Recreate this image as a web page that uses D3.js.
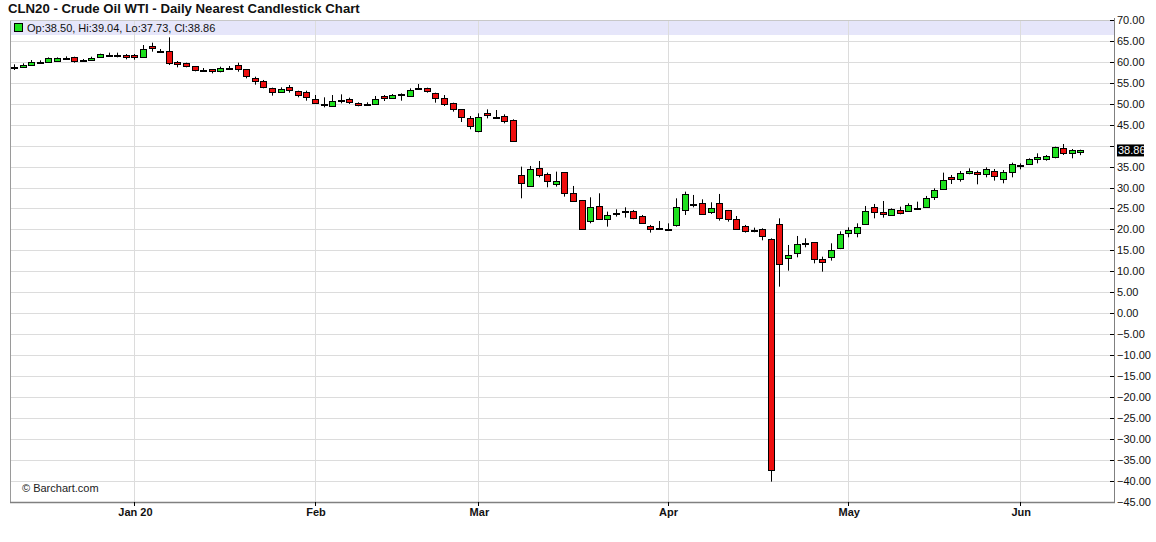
<!DOCTYPE html>
<html><head><meta charset="utf-8">
<script src="https://cdn.jsdelivr.net/npm/d3@7"></script>
<style>
html,body{margin:0;padding:0;background:#fff;}
svg{display:block;font-family:"Liberation Sans",Arial,sans-serif;}
</style></head>
<body><svg id="chart" width="1156" height="542"></svg>
<script>
const opens = [58.86,58.70,59.18,60.05,60.05,60.29,60.93,61.08,60.37,60.45,61.24,61.56,61.56,61.72,61.64,61.08,63.79,62.68,62.68,59.89,
59.65,59.02,58.14,58.30,57.90,58.46,59.25,58.22,56.23,55.52,53.69,52.73,53.92,52.97,52.89,51.06,49.87,49.39,50.90,51.06,
50.19,49.87,49.87,51.86,51.46,52.25,51.94,53.85,53.69,52.49,51.30,50.11,48.67,46.52,43.58,47.88,46.92,47.08,46.13,33.00,
30.38,34.59,33.16,30.77,33.64,28.63,27.03,22.10,25.60,22.42,24.01,24.41,24.41,23.29,20.91,20.43,20.11,21.07,24.65,26.08,
26.24,24.25,26.24,24.65,22.50,20.83,19.87,20.03,17.64,21.22,13.11,14.30,16.84,16.92,12.87,13.30,15.65,19.07,19.07,21.22,
25.44,24.09,23.37,24.64,24.48,25.20,25.44,27.67,29.58,32.44,31.96,33.40,33.80,33.16,34.03,31.96,33.64,35.31,35.54,36.74,
36.74,37.21,39.36,38.17,38.50];
const highs = [59.41,59.65,60.45,60.37,61.08,61.08,61.32,61.24,60.69,61.24,61.96,62.20,62.20,61.88,61.88,64.03,64.59,63.07,65.86,60.21,
59.81,59.02,58.54,58.30,58.86,59.02,59.81,58.22,56.47,55.68,53.85,53.92,54.48,53.13,53.13,52.09,51.54,52.09,52.25,51.46,
50.34,50.34,51.86,52.09,52.33,52.49,53.69,54.72,53.85,52.65,52.09,50.26,48.67,47.08,47.72,48.67,48.51,47.48,46.29,34.99,
35.15,36.34,33.56,33.80,33.64,30.38,27.03,27.67,28.63,24.25,24.81,25.28,24.65,23.45,21.07,22.02,21.46,27.43,29.02,28.23,
27.19,26.48,28.47,24.65,23.21,21.07,20.43,20.27,17.88,22.65,16.29,18.44,17.88,16.92,13.50,16.69,19.55,20.50,21.46,25.60,
26.08,26.79,25.04,25.44,26.24,26.63,27.99,29.82,33.56,33.00,33.95,34.59,34.03,34.83,34.43,34.19,35.94,35.78,36.98,38.17,
37.77,39.76,40.40,39.20,39.04];
const lows = [58.06,58.62,59.02,59.65,59.89,60.29,60.45,59.81,60.05,60.29,61.08,61.24,61.08,60.61,60.53,61.08,62.44,62.20,59.25,58.70,
58.70,57.74,57.74,57.26,57.50,58.06,57.66,56.07,54.56,53.69,51.94,52.65,52.65,51.54,50.74,49.95,49.15,49.39,50.11,49.95,
49.39,49.63,49.71,50.66,51.30,50.74,51.86,53.45,52.65,50.26,49.47,48.12,45.65,43.90,43.18,46.52,46.60,45.33,41.03,27.43,
30.38,32.44,30.06,30.22,27.83,26.64,20.11,21.46,22.42,20.67,23.06,22.82,22.42,21.30,19.24,20.03,19.87,20.67,23.45,25.28,
23.61,23.69,22.10,21.86,20.03,19.24,19.32,17.40,-40.21,6.34,10.16,13.34,15.73,11.91,9.92,12.55,15.30,18.12,18.12,21.22,
22.65,22.81,23.37,23.61,24.25,24.80,25.20,27.03,29.58,30.85,31.41,33.16,30.77,32.44,31.65,31.01,32.44,34.35,35.38,35.78,
36.42,36.98,37.77,36.98,37.73];
const closes = [58.86,59.33,59.97,60.05,60.93,60.93,60.93,60.29,60.37,61.00,61.80,61.56,61.56,61.08,61.08,62.99,63.31,62.68,59.65,59.49,
59.02,58.06,58.14,57.74,58.54,58.46,58.22,56.71,55.52,54.08,52.89,53.45,53.21,52.09,51.54,50.11,49.87,50.58,50.90,50.34,
49.63,49.87,51.06,51.30,52.09,52.25,53.29,53.85,53.13,51.30,49.87,48.67,46.92,44.61,46.76,47.24,46.92,45.89,41.19,31.01,
34.35,33.00,31.57,31.65,28.63,26.87,20.11,25.28,22.50,23.45,24.01,24.41,22.66,21.46,20.03,20.43,20.11,25.28,28.39,26.08,
23.61,25.04,22.66,22.50,20.03,19.71,19.87,18.44,-37.42,11.67,13.90,16.45,16.84,12.87,12.31,15.00,18.83,19.80,20.50,24.48,
24.09,23.61,24.80,24.01,25.76,25.20,27.43,29.42,31.80,31.96,33.40,33.95,33.16,34.35,32.76,33.64,35.62,35.31,36.74,37.37,
37.53,39.60,38.17,38.97,38.86];

const monthLabels = ["Jan 20","Feb","Mar","Apr","May","Jun"];
const monthIndex = [14,35,54,76,97,117];
const yTicks = [70,65,60,55,50,45,40,35,30,25,20,15,10,5,0,-5,-10,-15,-20,-25,-30,-35,-40,-45];
const title = "CLN20 - Crude Oil WTI - Daily Nearest Candlestick Chart";
const legendText = "Op:38.50, Hi:39.04, Lo:37.73, Cl:38.86";
const lastLabel = "38.86";

const svg = d3.select("#chart");
const L = 10, R = 1114, T = 20, B = 502;
const x = d3.scaleLinear().domain([0, opens.length - 1]).range([14, 1080.4]);
const y = d3.scaleLinear().domain([-45, 70]).range([501.7, 20]);

// legend band
svg.append("rect").attr("x", L).attr("y", T).attr("width", R - L).attr("height", 15).attr("fill", "#e6e6fa");

// horizontal grid
svg.append("g").selectAll("line").data(yTicks.filter(v => v < 70 && v > -45)).join("line")
  .attr("x1", L).attr("x2", R).attr("y1", d => Math.round(y(d)) + 0.5).attr("y2", d => Math.round(y(d)) + 0.5)
  .attr("stroke", "#dcdcdc").attr("stroke-width", 1);
// vertical grid
svg.append("g").selectAll("line").data(monthIndex).join("line")
  .attr("x1", d => Math.round(x(d)) + 0.5).attr("x2", d => Math.round(x(d)) + 0.5)
  .attr("y1", T).attr("y2", B).attr("stroke", "#dcdcdc");

// legend contents
svg.append("rect").attr("x", 14.5).attr("y", 23.5).attr("width", 8).attr("height", 8)
  .attr("fill", "#1ee01e").attr("stroke", "#000");
svg.append("text").attr("x", 27).attr("y", 32).attr("font-size", 11).attr("fill", "#111").text(legendText);

// border
svg.append("line").attr("x1", L + 0.5).attr("x2", L + 0.5).attr("y1", T).attr("y2", B).attr("stroke", "#9a9a9a");
svg.append("line").attr("x1", L).attr("x2", R).attr("y1", T + 0.5).attr("y2", T + 0.5).attr("stroke", "#c8c8c8");

// candles
const data = opens.map((o, i) => ({i, o, h: highs[i], l: lows[i], c: closes[i]}));
const bw = 6;
const g = svg.append("g");
g.selectAll("line.wick").data(data).join("line").attr("class", "wick")
  .attr("x1", d => Math.round(x(d.i)) + 0.5).attr("x2", d => Math.round(x(d.i)) + 0.5)
  .attr("y1", d => y(d.h)).attr("y2", d => y(d.l)).attr("stroke", "#000").attr("stroke-width", 1);
g.selectAll("rect.body").data(data).join("rect").attr("class", "body")
  .attr("x", d => Math.round(x(d.i)) - bw / 2 + 0.5)
  .attr("y", d => Math.round(y(Math.max(d.o, d.c))) + 0.5)
  .attr("width", bw)
  .attr("height", d => Math.max(1, Math.round(y(Math.min(d.o, d.c))) - Math.round(y(Math.max(d.o, d.c)))))
  .attr("fill", d => d.c > d.o ? "#1ee01e" : (d.c < d.o ? "#ee0e0e" : "#000"))
  .attr("stroke", "#000").attr("stroke-width", 1);

// right axis
const lastClose = closes[closes.length - 1];
const lp = y(lastClose);
const ax = svg.append("g");
ax.append("line").attr("x1", R + 0.5).attr("x2", R + 0.5).attr("y1", T - 2).attr("y2", B).attr("stroke", "#808080");
ax.selectAll("line.tk").data(yTicks).join("line").attr("class", "tk")
  .attr("x1", R - 4).attr("x2", R).attr("y1", d => Math.round(y(d)) + 0.5).attr("y2", d => Math.round(y(d)) + 0.5)
  .attr("stroke", "#000");
ax.selectAll("text").data(yTicks.filter(d => Math.abs(y(d) - lp) > 11)).join("text")
  .attr("x", 1117).attr("y", d => y(d) + 4).attr("font-size", 11).attr("fill", "#111")
  .text(d => d3.format(".2f")(d));
// last price label
ax.append("rect").attr("x", 1117).attr("y", lp - 6).attr("width", 27).attr("height", 12).attr("fill", "#000");
ax.append("text").attr("x", 1118).attr("y", lp + 4).attr("font-size", 11).attr("fill", "#fff").text(lastLabel);

// bottom axis
svg.append("line").attr("x1", L).attr("x2", R + 1).attr("y1", B + 0.5).attr("y2", B + 0.5).attr("stroke", "#808080").attr("stroke-width", 1.5);
svg.append("g").selectAll("line").data(monthIndex).join("line")
  .attr("x1", d => Math.round(x(d)) + 0.5).attr("x2", d => Math.round(x(d)) + 0.5)
  .attr("y1", B).attr("y2", B + 4).attr("stroke", "#000");
svg.append("g").selectAll("text").data(monthIndex).join("text")
  .attr("x", d => x(d) + 1).attr("y", 516).attr("text-anchor", "middle").attr("font-size", 11).attr("font-weight", "bold")
  .attr("fill", "#111").text((d, k) => monthLabels[k]);

// watermark
svg.append("text").attr("x", 22).attr("y", 492).attr("font-size", 11).attr("fill", "#222").text("© Barchart.com");

// title
svg.append("text").attr("x", 8).attr("y", 13).attr("font-size", 13.2).attr("font-weight", "bold").attr("fill", "#111").text(title);
</script></body></html>
